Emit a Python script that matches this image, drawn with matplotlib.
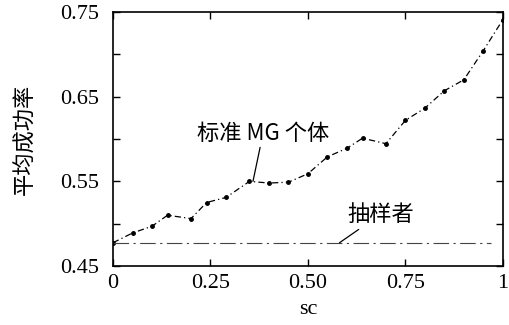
import matplotlib
matplotlib.use("Agg")
import matplotlib.pyplot as plt

# data
mg_x = [0, 0.05, 0.10, 0.14, 0.20, 0.24, 0.29, 0.35, 0.40, 0.45, 0.50,
        0.55, 0.60, 0.64, 0.70, 0.75, 0.80, 0.85, 0.90, 0.95, 1.0]
mg_y = [0.4775, 0.489, 0.497, 0.510, 0.506, 0.525, 0.531, 0.550, 0.548, 0.549, 0.559,
        0.579, 0.589, 0.601, 0.5945, 0.622, 0.6365, 0.657, 0.670, 0.7045, 0.741]
sampler_x = [0, 0.97]
sampler_y = [0.477, 0.477]

y_ticks = [0.45, 0.50, 0.55, 0.60, 0.65, 0.70, 0.75]
y_labels = ["0.45", "", "0.55", "", "0.65", "", "0.75"]
x_ticks = [0, 0.25, 0.5, 0.75, 1.0]
x_labels = ["0", "0.25", "0.50", "0.75", "1"]

serif = ["Liberation Serif", "DejaVu Serif"]
cjk = ["Noto Sans CJK SC", "Liberation Serif"]

fig = plt.figure(figsize=(5.1, 3.25), dpi=100)
ax = fig.add_axes([0.2216, 0.1815, 0.7644, 0.7815])

ax.plot(mg_x, mg_y, color="black", lw=0.9, linestyle=(0, (5, 2.5, 1, 2.5)),
        marker="o", markersize=2.5)
ax.plot(sampler_x, sampler_y, color="#444444", lw=0.8, linestyle=(0, (14, 4, 2, 4)))

ax.set_xlim(0, 1)
ax.set_ylim(0.45, 0.75)
ax.set_yticks(y_ticks)
ax.set_yticklabels(y_labels, fontfamily=serif, fontsize=16)
ax.set_xticks(x_ticks)
ax.set_xticklabels(x_labels, fontfamily=serif, fontsize=16)
ax.tick_params(direction="in", length=5, width=1, right=True, top=True)
ax.tick_params(axis="y", pad=10)
ax.tick_params(axis="x", pad=6)
for s in ax.spines.values():
    s.set_linewidth(1.2)

ax.set_xlabel("sc", fontfamily=serif, fontsize=16, labelpad=5)
ax.set_ylabel("平均成功率", fontfamily=cjk, fontsize=16, labelpad=17)

ax.annotate("标准 MG 个体", xy=(0.359, 0.550), xytext=(0.385, 0.607),
            fontfamily=cjk, fontsize=16, ha="center", va="center",
            arrowprops=dict(arrowstyle="-", color="black", lw=0.9,
                            shrinkA=0, shrinkB=0))
ax.annotate("抽样者", xy=(0.581, 0.4775), xytext=(0.686, 0.511),
            fontfamily=cjk, fontsize=16, ha="center", va="center",
            arrowprops=dict(arrowstyle="-", color="black", lw=0.9,
                            shrinkA=1, shrinkB=0))

fig.savefig("out.png", dpi=100)
